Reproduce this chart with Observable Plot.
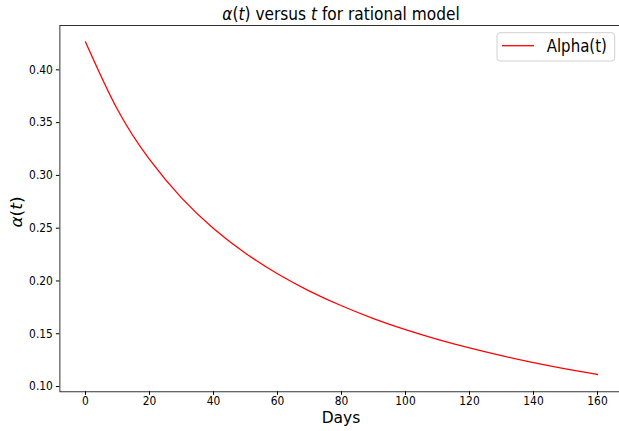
<!DOCTYPE html>
<html><head><meta charset="utf-8">
<script src="https://cdn.jsdelivr.net/npm/d3@7"></script>
<script src="https://cdn.jsdelivr.net/npm/@observablehq/plot@0.6"></script>
<style>
html,body{margin:0;padding:0;background:#fff;overflow:hidden}
#wrap{position:relative;width:619px;height:431px;overflow:hidden}
#wrap svg{display:block;max-width:none !important;width:624px;height:431px}
</style></head><body><div id="wrap"></div>
<script>
const days  = [0, 10, 20, 30, 40, 50, 60, 70, 80, 90, 100, 110, 120, 130, 140, 150, 160];
const alpha = [0.4265, 0.3624, 0.3151, 0.2787, 0.2497, 0.2263, 0.2068, 0.1904, 0.1765, 0.1644, 0.1539, 0.1447, 0.1365, 0.1292, 0.1226, 0.1167, 0.1114];
const xTicks = [0, 20, 40, 60, 80, 100, 120, 140, 160];
const yTicks = [0.10, 0.15, 0.20, 0.25, 0.30, 0.35, 0.40];
const seriesName = "Alpha(t)";
const xLabel = "Days";

const data = days.map((d, i) => ({day: d, alpha: alpha[i]}));

const chart = Plot.plot({
  width: 624, height: 431,
  marginTop: 25, marginBottom: 39.7, marginLeft: 59.4, marginRight: 1.4,
  style: {fontFamily: "DejaVu Sans", fontSize: "10.7px", color: "#000", background: "#fff", overflow: "visible"},
  x: {domain: [-8, 168], ticks: xTicks, tickSize: 3.5, tickPadding: 1.5, label: null, tickFormat: d3.format("d")},
  y: {domain: [0.095, 0.442], ticks: yTicks, tickSize: 3.5, tickPadding: 3.5, label: null, tickFormat: d3.format(".2f")},
  marks: [
    Plot.line(data, {x: "day", y: "alpha", stroke: "red", strokeWidth: 1.3, curve: "natural"}),
    Plot.frame({stroke: "#000", strokeWidth: 0.8})
  ]
});
document.getElementById("wrap").appendChild(chart);

const svg = d3.select(chart);
svg.selectAll("text").each(function() {
  const t = this.getAttribute("transform");
  this.setAttribute("transform", (t ? t + " " : "") + "scale(1,1.12)");
});

const F = "DejaVu Sans";
svg.append("text")
  .attr("transform", "translate(341,20.3) scale(1,1.1)")
  .attr("text-anchor", "middle").attr("font-family", F).attr("font-size", "15.4px").attr("fill", "#000")
  .html('<tspan font-style="italic">α</tspan>(<tspan font-style="italic">t</tspan>) versus <tspan font-style="italic">t</tspan> for rational model');
svg.append("text")
  .attr("transform", "translate(341,422.5)")
  .attr("text-anchor", "middle").attr("font-family", F).attr("font-size", "15.5px").attr("fill", "#000")
  .text(xLabel);
svg.append("text")
  .attr("transform", "translate(21.5,212) rotate(-90) scale(1.1,1)")
  .attr("text-anchor", "middle").attr("font-family", F).attr("font-size", "15.5px").attr("fill", "#000")
  .html('<tspan font-style="italic">α</tspan>(<tspan font-style="italic">t</tspan>)');
const lg = svg.append("g");
lg.append("rect").attr("x", 497).attr("y", 32.7).attr("width", 117.7).attr("height", 28.3).attr("rx", 3)
  .attr("fill", "#fff").attr("fill-opacity", 0.8).attr("stroke", "#d0d0d0").attr("stroke-width", 1);
lg.append("line").attr("x1", 502).attr("x2", 534).attr("y1", 45.7).attr("y2", 45.7)
  .attr("stroke", "red").attr("stroke-width", 1.3);
lg.append("text").attr("transform", "translate(546.7,51.8) scale(1,1.15)")
  .attr("text-anchor", "start")
  .attr("font-family", F).attr("font-size", "15px").attr("fill", "#000").text(seriesName);
</script></body></html>
